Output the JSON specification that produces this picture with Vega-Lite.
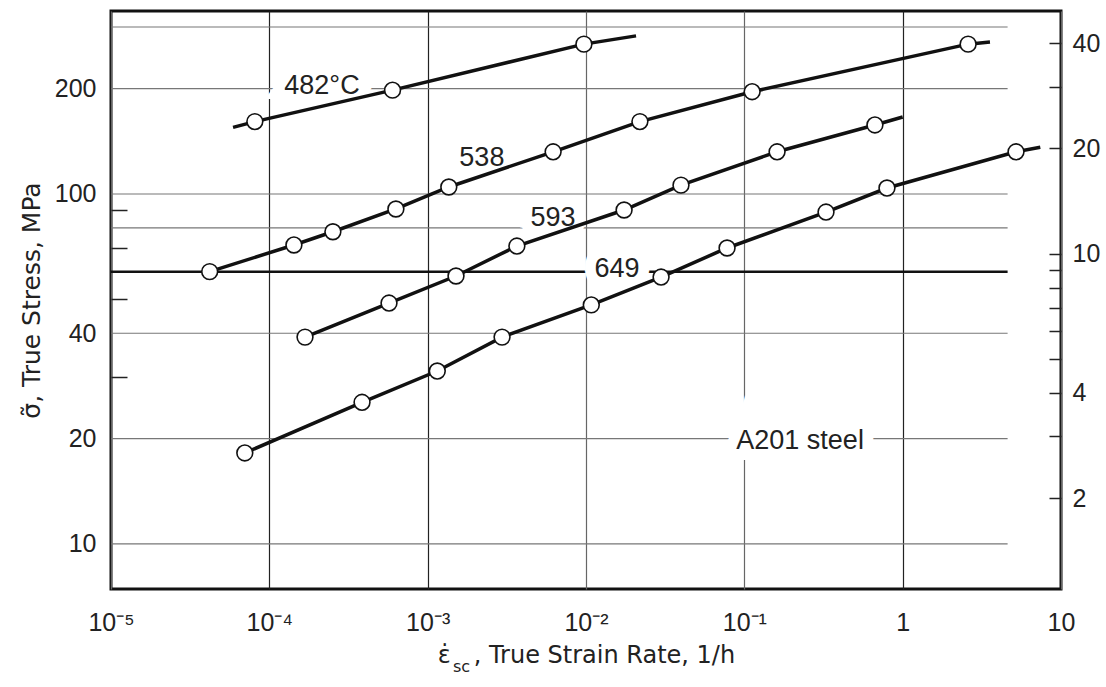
{
  "$schema": "https://vega.github.io/schema/vega-lite/v6.json",
  "width": 950,
  "height": 578,
  "autosize": {"type": "none"},
  "padding": {"left": 111, "top": 11, "right": 45, "bottom": 98},
  "background": "white",
  "config": {
    "font": "Liberation Sans",
    "view": {"stroke": "#111", "strokeWidth": 3},
    "axis": {"labelColor": "#222", "titleColor": "#222", "titleFontWeight": "normal"},
    "title": {"color": "#222"}
  },
  "title": {
    "text": "sc",
    "orient": "bottom",
    "anchor": "start",
    "frame": "group",
    "font": "DejaVu Sans",
    "fontSize": 16,
    "fontWeight": "normal",
    "dx": 342,
    "dy": -12
  },
  "datasets": {
    "creep": [
      {"temp": "482", "rate": 0.000059, "stress": 155, "measured": false},
      {"temp": "482", "rate": 0.000081, "stress": 161, "measured": true},
      {"temp": "482", "rate": 0.0006, "stress": 198, "measured": true},
      {"temp": "482", "rate": 0.0097, "stress": 268, "measured": true},
      {"temp": "482", "rate": 0.0207, "stress": 283, "measured": false},

      {"temp": "538", "rate": 0.000042, "stress": 60, "measured": true},
      {"temp": "538", "rate": 0.000143, "stress": 71.5, "measured": true},
      {"temp": "538", "rate": 0.000252, "stress": 78, "measured": true},
      {"temp": "538", "rate": 0.00063, "stress": 90.6, "measured": true},
      {"temp": "538", "rate": 0.00136, "stress": 104.7, "measured": true},
      {"temp": "538", "rate": 0.0062, "stress": 132, "measured": true},
      {"temp": "538", "rate": 0.0219, "stress": 161, "measured": true},
      {"temp": "538", "rate": 0.112, "stress": 196, "measured": true},
      {"temp": "538", "rate": 2.59, "stress": 268, "measured": true},
      {"temp": "538", "rate": 3.56, "stress": 272, "measured": false},

      {"temp": "593", "rate": 0.000168, "stress": 39, "measured": true},
      {"temp": "593", "rate": 0.00057, "stress": 48.8, "measured": true},
      {"temp": "593", "rate": 0.00151, "stress": 58.3, "measured": true},
      {"temp": "593", "rate": 0.00366, "stress": 71, "measured": true},
      {"temp": "593", "rate": 0.0174, "stress": 90, "measured": true},
      {"temp": "593", "rate": 0.0398, "stress": 106, "measured": true},
      {"temp": "593", "rate": 0.161, "stress": 132, "measured": true},
      {"temp": "593", "rate": 0.668, "stress": 157.5, "measured": true},
      {"temp": "593", "rate": 1.0, "stress": 166, "measured": false},

      {"temp": "649", "rate": 0.00007, "stress": 18.2, "measured": true},
      {"temp": "649", "rate": 0.000385, "stress": 25.4, "measured": true},
      {"temp": "649", "rate": 0.00115, "stress": 31.2, "measured": true},
      {"temp": "649", "rate": 0.00295, "stress": 39, "measured": true},
      {"temp": "649", "rate": 0.0108, "stress": 48.2, "measured": true},
      {"temp": "649", "rate": 0.0298, "stress": 57.9, "measured": true},
      {"temp": "649", "rate": 0.0778, "stress": 70.1, "measured": true},
      {"temp": "649", "rate": 0.328, "stress": 88.8, "measured": true},
      {"temp": "649", "rate": 0.796, "stress": 104, "measured": true},
      {"temp": "649", "rate": 5.2, "stress": 132, "measured": true},
      {"temp": "649", "rate": 7.4, "stress": 136, "measured": false}
    ],
    "labels": [
      {"text": "482°C", "rate": 0.000215, "stress": 203.5},
      {"text": "538", "rate": 0.0022, "stress": 126.7},
      {"text": "593", "rate": 0.00619, "stress": 85.4},
      {"text": "649", "rate": 0.0157, "stress": 61.1},
      {"text": "A201 steel", "rate": 0.225, "stress": 19.7}
    ],
    "stressGrid": [
      {"stress": 10}, {"stress": 20}, {"stress": 40},
      {"stress": 80}, {"stress": 100}, {"stress": 200}, {"stress": 300}
    ],
    "stressGridBold": [
      {"stress": 60}
    ],
    "ksiTicks": [
      {"ksi": 2}, {"ksi": 3}, {"ksi": 4}, {"ksi": 5}, {"ksi": 6}, {"ksi": 7},
      {"ksi": 8}, {"ksi": 9}, {"ksi": 10}, {"ksi": 20}, {"ksi": 30}, {"ksi": 40}
    ]
  },
  "layer": [
    {
      "encoding": {
        "y": {
          "field": "stress",
          "type": "quantitative",
          "scale": {"type": "log", "domain": [7.436, 333.3], "nice": false},
          "axis": {
            "values": [10, 20, 30, 40, 50, 60, 70, 80, 90, 100, 200, 300],
            "labelExpr": "indexof([10, 20, 40, 100, 200], datum.value) >= 0 ? format(datum.value, 'd') : ''",
            "labelFontSize": 25,
            "labelPadding": 31,
            "tickSize": -16,
            "tickColor": "#222",
            "tickWidth": 1.5,
            "tickOpacity": {"condition": {"test": "indexof([30, 50, 70, 90], datum.value) >= 0", "value": 1}, "value": 0},
            "domain": false,
            "grid": false,
            "title": "σ̃, True Stress, MPa",
            "titleFont": "DejaVu Sans",
            "titleFontSize": 25,
            "titlePadding": 10
          }
        }
      },
      "layer": [
        {
          "data": {"name": "stressGrid"},
          "mark": {"type": "rule", "color": "#777", "strokeWidth": 1.2},
          "encoding": {
            "x": {"datum": 0.00001, "type": "quantitative", "scale": {"type": "log", "domain": [0.00001, 10], "nice": false}},
            "x2": {"datum": 4.6}
          }
        },
        {
          "data": {"name": "stressGridBold"},
          "mark": {"type": "rule", "color": "#111", "strokeWidth": 2.5},
          "encoding": {
            "x": {"datum": 0.00001, "type": "quantitative", "scale": {"type": "log", "domain": [0.00001, 10], "nice": false}},
            "x2": {"datum": 4.6}
          }
        },
        {
          "data": {"name": "labels"},
          "mark": {"type": "text", "fontSize": 27, "stroke": "white", "strokeWidth": 22, "fill": "white", "align": "center", "baseline": "middle"},
          "encoding": {
            "x": {"field": "rate", "type": "quantitative", "scale": {"type": "log", "domain": [0.00001, 10], "nice": false}},
            "text": {"field": "text", "type": "nominal"}
          }
        },
        {
          "data": {"name": "creep"},
          "mark": {"type": "line", "color": "#111", "strokeWidth": 3.5},
          "encoding": {
            "x": {
              "field": "rate",
              "type": "quantitative",
              "scale": {"type": "log", "domain": [0.00001, 10], "nice": false},
              "axis": {
                "values": [0.00001, 0.0001, 0.001, 0.01, 0.1, 1, 10],
                "labelExpr": "datum.value < 0.00002 ? '10⁻⁵' : datum.value < 0.0002 ? '10⁻⁴' : datum.value < 0.002 ? '10⁻³' : datum.value < 0.02 ? '10⁻²' : datum.value < 0.2 ? '10⁻¹' : datum.value < 2 ? '1' : '10'",
                "labelFontSize": 25,
                "labelPadding": 21,
                "labelFlush": false,
                "ticks": false,
                "domain": false,
                "grid": true,
                "gridColor": {"condition": {"test": "datum.value == 0.0001 || datum.value == 0.001 || datum.value == 1", "value": "#222"}, "value": "#666"},
                "gridWidth": 1.2,
                "title": "ε̇\u00a0\u00a0\u00a0, True Strain Rate, 1/h",
                "titleFont": "DejaVu Sans",
                "titleFontSize": 24,
                "titlePadding": 8
              }
            },
            "detail": {"field": "temp", "type": "nominal"}
          }
        },
        {
          "data": {"name": "creep"},
          "transform": [{"filter": "datum.measured"}],
          "mark": {"type": "point", "shape": "circle", "filled": true, "fill": "white", "stroke": "#111", "strokeWidth": 1.6, "size": 250, "opacity": 1},
          "encoding": {
            "x": {"field": "rate", "type": "quantitative", "scale": {"type": "log", "domain": [0.00001, 10], "nice": false}}
          }
        },
        {
          "data": {"name": "labels"},
          "mark": {"type": "text", "fontSize": 27, "fill": "#222", "align": "center", "baseline": "middle"},
          "encoding": {
            "x": {"field": "rate", "type": "quantitative", "scale": {"type": "log", "domain": [0.00001, 10], "nice": false}},
            "text": {"field": "text", "type": "nominal"}
          }
        }
      ]
    },
    {
      "data": {"name": "ksiTicks"},
      "mark": {"type": "point", "opacity": 0},
      "encoding": {
        "y": {
          "field": "ksi",
          "type": "quantitative",
          "scale": {"type": "log", "domain": [1.099, 49.4], "nice": false},
          "axis": {
            "orient": "right",
            "values": [2, 3, 4, 5, 6, 7, 8, 9, 10, 20, 30, 40],
            "labelExpr": "indexof([2, 4, 10, 20, 40], datum.value) >= 0 ? format(datum.value, 'd') : ''",
            "labelFontSize": 25,
            "labelPadding": 23,
            "tickSize": -12,
            "tickColor": "#222",
            "tickWidth": 1.5,
            "domain": false,
            "grid": false,
            "title": null
          }
        }
      }
    }
  ],
  "resolve": {"scale": {"y": "independent"}, "axis": {"y": "independent"}}
}
